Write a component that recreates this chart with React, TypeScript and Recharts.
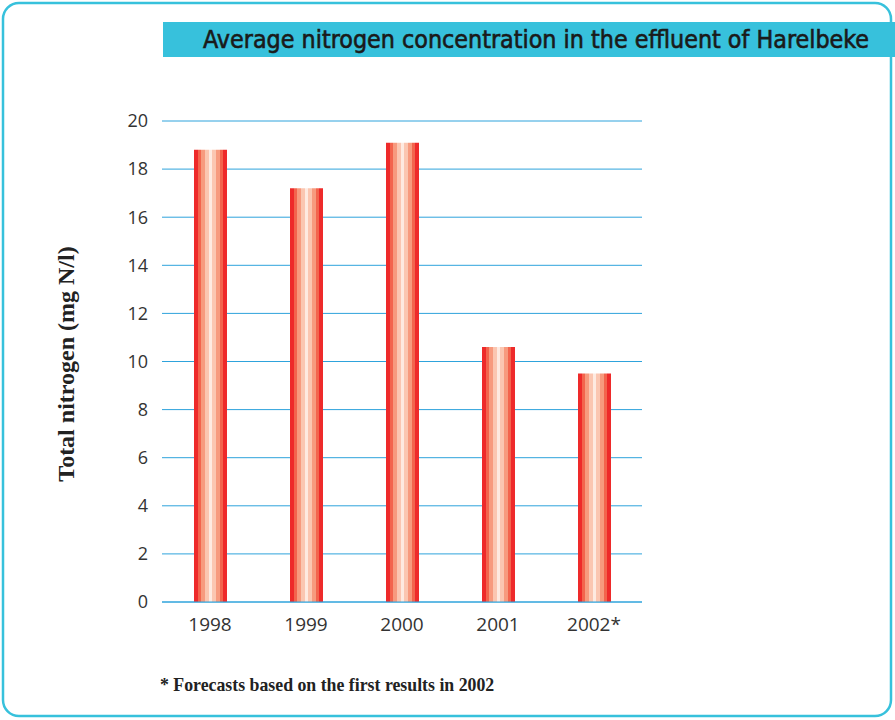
import { BarChart, Bar, XAxis, YAxis, CartesianGrid } from "recharts";

const years = ["1998", "1999", "2000", "2001", "2002*"];
const nitrogen = [18.8, 17.2, 19.1, 10.6, 9.5];
const yTicks = [0, 2, 4, 6, 8, 10, 12, 14, 16, 18, 20];

const data = years.map((year, i) => ({ year, value: nitrogen[i] }));

// red -> white -> red vertical stripes used inside every bar
const stripeColors = ["#ee2a2a", "#f3644d", "#f79a7e", "#fbc6b1", "#feeae1", "#fbc6b1", "#f79a7e", "#f3644d", "#ee2a2a"];

const cyan = "#37c1dc";
const gridBlue = "#2ea3dc";

export default function App() {
  return (
    <div style={{ position: "absolute", left: 0, top: 0, width: 895, height: 720, background: "#fff" }}>
      <svg width={895} height={720} style={{ position: "absolute", left: 0, top: 0 }}>
        <rect x={3} y={3} width={888} height={713} rx={16} ry={16} fill="none" stroke={cyan} strokeWidth={2.5} />
        <rect x={163} y={22} width={732} height={35} fill={cyan} />
        <text
          x={203}
          y={48}
          fontFamily="'DejaVu Sans', sans-serif"
          fontStretch="condensed"
          fontSize={24.8}
          fill="#1a1a1a"
          stroke="#1a1a1a"
          strokeWidth={0.6}
        >
          Average nitrogen concentration in the effluent of Harelbeke
        </text>
        <text
          transform="translate(74 364) rotate(-90)"
          textAnchor="middle"
          fontFamily="'Liberation Serif', 'DejaVu Serif', serif"
          fontWeight="bold"
          fontSize={24}
          fill="#222"
        >
          Total nitrogen (mg N/l)
        </text>
        <text x={160} y={691} fontFamily="'Liberation Serif', serif" fontWeight="bold" fontSize={17.8} fill="#222">
          * Forecasts based on the first results in 2002
        </text>
      </svg>
      <div style={{ position: "absolute", left: 0, top: 0 }}>
        <BarChart width={895} height={720} data={data} margin={{ top: 121, right: 253, bottom: 88, left: 102 }}>
          <defs>
            <linearGradient id="stripes" x1="0" y1="0" x2="1" y2="0">
              {stripeColors.flatMap((c, i) => [
                <stop key={`a${i}`} offset={i / stripeColors.length} stopColor={c} />,
                <stop key={`b${i}`} offset={(i + 1) / stripeColors.length} stopColor={c} />,
              ])}
            </linearGradient>
          </defs>
          <CartesianGrid horizontal vertical={false} stroke={gridBlue} strokeWidth={1} />
          <XAxis
            dataKey="year"
            axisLine={{ stroke: gridBlue }}
            tickLine={false}
            tickSize={0}
            tickMargin={16}
            tick={{ fontSize: 19, fill: "#333", fontFamily: "'Open Sans', sans-serif" }}
            height={30}
          />
          <YAxis
            domain={[0, 20]}
            ticks={yTicks}
            axisLine={false}
            tickLine={false}
            tickSize={0}
            tickMargin={14}
            width={60}
            tick={{ fontSize: 18, fill: "#333", fontFamily: "'Open Sans', sans-serif" }}
          />
          <Bar dataKey="value" fill="url(#stripes)" barSize={33} isAnimationActive={false} />
        </BarChart>
      </div>
    </div>
  );
}
